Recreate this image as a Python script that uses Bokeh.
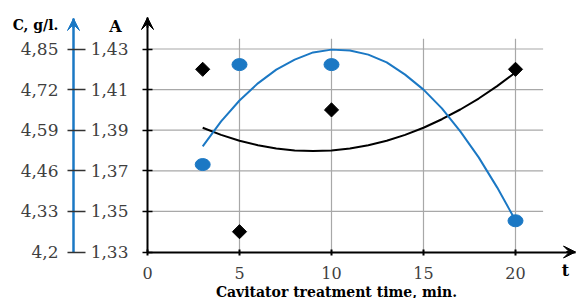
from bokeh.plotting import figure
from bokeh.models import Range1d, LinearAxis, FixedTicker, Label, Arrow, VeeHead
from bokeh.embed import file_html
from bokeh.resources import INLINE

# ---- data ----
time_A = [3, 5, 10, 20]
absorb = [1.42, 1.34, 1.40, 1.42]
time_C = [3, 5, 10, 20]
conc = [4.48, 4.80, 4.80, 4.30]

trend_x = [3, 4, 5, 6, 7, 8, 9, 10, 11, 12, 13, 14, 15, 16, 17, 18, 19, 20]
trend_A = [1.3912, 1.3877, 1.3848, 1.3826, 1.3810, 1.3800, 1.3797, 1.3800, 1.3810,
           1.3826, 1.3848, 1.3877, 1.3912, 1.3954, 1.4002, 1.4056, 1.4117, 1.4184]
trend_C = [4.538, 4.618, 4.685, 4.740, 4.784, 4.816, 4.839, 4.848, 4.845,
           4.832, 4.807, 4.768, 4.720, 4.660, 4.586, 4.503, 4.407, 4.301]

x_ticks = [0, 5, 10, 15, 20]
A_ticks = [1.33, 1.35, 1.37, 1.39, 1.41, 1.43]
A_labels = ["1,33", "1,35", "1,37", "1,39", "1,41", "1,43"]
C_ticks = [4.2, 4.33, 4.46, 4.59, 4.72, 4.85]
C_labels = ["4,2", "4,33", "4,46", "4,59", "4,72", "4,85"]

BLUE = "#1b78c4"
GRAY_TXT = "#3f3f3f"
GRID = "#a8a8a8"
SERIF = "DejaVu Serif"

W, H = 576, 298
ORIGIN_X, ORIGIN_Y = 147, 251.5     # pixel position of (0, 1.33)
PX_X = 18.4                          # px per minute
PX_A = 2030.0                        # px per unit of A
C_PER_A = (C_ticks[-1] - C_ticks[0]) / (A_ticks[-1] - A_ticks[0])

x0 = -ORIGIN_X / PX_X
x1 = (W - ORIGIN_X) / PX_X
a0 = A_ticks[0] - (H - ORIGIN_Y) / PX_A
a1 = A_ticks[0] + ORIGIN_Y / PX_A
c0 = C_ticks[0] + (a0 - A_ticks[0]) * C_PER_A
c1 = C_ticks[0] + (a1 - A_ticks[0]) * C_PER_A

p = figure(width=W, height=H, output_backend="svg", toolbar_location=None,
           x_range=Range1d(x0, x1), y_range=Range1d(a0, a1),
           min_border=0, x_axis_type=None, y_axis_type=None)
p.outline_line_color = None
p.background_fill_color = "white"
p.border_fill_color = "white"
p.xgrid.visible = False
p.ygrid.visible = False
p.extra_y_ranges = {"C": Range1d(c0, c1)}

a_tip = A_ticks[0] + (ORIGIN_Y - 17) / PX_A
c_tip = C_ticks[0] + (ORIGIN_Y - 18) / PX_A * C_PER_A
x_tip = (575 - ORIGIN_X) / PX_X
c_axis_x = (73 - ORIGIN_X) / PX_X

# grid lines
grid_right = 21.5
grid_top = 1.435
p.segment(x0=[0] * 5, x1=[grid_right] * 5, y0=A_ticks[1:], y1=A_ticks[1:],
          line_color=GRID, line_width=1.2)
p.segment(x0=x_ticks[1:], x1=x_ticks[1:], y0=[A_ticks[0]] * 4, y1=[grid_top] * 4,
          line_color=GRID, line_width=1.2)

# x axis
xa = LinearAxis(ticker=FixedTicker(ticks=x_ticks), fixed_location=A_ticks[0],
                bounds=(0, x_tip))
xa.axis_line_width = 2
xa.major_tick_in = 3
xa.major_tick_out = 3
xa.major_tick_line_width = 2
xa.minor_tick_line_color = None
xa.major_label_standoff = 12
xa.major_label_text_font = SERIF
xa.major_label_text_font_size = "16px"
xa.major_label_text_color = GRAY_TXT
p.add_layout(xa, "below")

# A axis
ya = LinearAxis(ticker=FixedTicker(ticks=A_ticks), fixed_location=0,
                bounds=(A_ticks[0], a_tip),
                major_label_overrides={t: l for t, l in zip(A_ticks, A_labels)})
ya.axis_line_width = 2
ya.major_tick_in = 5
ya.major_tick_out = 5
ya.major_tick_line_width = 1.5
ya.minor_tick_line_color = None
ya.major_label_standoff = 14
ya.major_label_text_font = SERIF
ya.major_label_text_font_size = "17px"
ya.major_label_text_color = GRAY_TXT
p.add_layout(ya, "left")

# C axis
yc = LinearAxis(y_range_name="C", ticker=FixedTicker(ticks=C_ticks), fixed_location=c_axis_x,
                bounds=(C_ticks[0], c_tip),
                major_label_overrides={t: l for t, l in zip(C_ticks, C_labels)})
yc.axis_line_color = BLUE
yc.axis_line_width = 2.5
yc.major_tick_in = 12
yc.major_tick_out = 6
yc.major_tick_line_color = "#333333"
yc.major_tick_line_width = 1.5
yc.minor_tick_line_color = None
yc.major_label_standoff = 9
yc.major_label_text_font = SERIF
yc.major_label_text_font_size = "17px"
yc.major_label_text_color = GRAY_TXT
p.add_layout(yc, "left")

# arrow heads on axes
p.add_layout(Arrow(end=VeeHead(size=12, fill_color="black", line_color="black"),
                   x_start=0, y_start=a_tip - 0.005, x_end=0, y_end=a_tip,
                   line_color="black", line_width=2))
p.add_layout(Arrow(end=VeeHead(size=12, fill_color="black", line_color="black"),
                   x_start=x_tip - 0.5, y_start=A_ticks[0], x_end=x_tip, y_end=A_ticks[0],
                   line_color="black", line_width=2))
p.add_layout(Arrow(end=VeeHead(size=12, fill_color=BLUE, line_color=BLUE),
                   x_start=c_axis_x, y_start=c_tip - 0.03, x_end=c_axis_x, y_end=c_tip,
                   y_range_name="C", line_color=BLUE, line_width=2.5))

# trend lines
p.line(trend_x, trend_A, line_color="black", line_width=2)
p.line(trend_x, trend_C, line_color=BLUE, line_width=2, y_range_name="C")

# points
p.ellipse(time_C, conc, width=15, height=12, width_units="screen", height_units="screen",
          fill_color=BLUE, line_color=BLUE, y_range_name="C")
p.scatter(time_A, absorb, marker="square", angle=0.785398, size=10,
          fill_color="black", line_color="black")

# texts (screen units measured from the bottom-left corner)
def lab(txt, x, y, size="15px", bold=True, color="black"):
    p.add_layout(Label(x=x, y=y, x_units="screen", y_units="screen", text=txt,
                       text_font=SERIF, text_font_size=size,
                       text_font_style="bold" if bold else "normal",
                       text_color=color, text_align="center", text_baseline="middle"))

lab("C, g/l.", 35, H - 24, size="14px")
lab("A", 115, H - 26, size="16px")
lab("t", 565, H - 270, size="16px")
lab("Cavitator treatment time, min.", 336, H - 291, size="14px")

open("out.html", "w").write(file_html(p, INLINE))
